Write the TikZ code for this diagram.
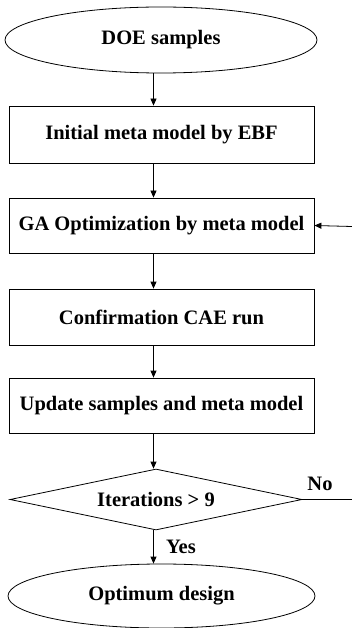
\documentclass[tikz,border=0pt]{standalone}
\usepackage{fontspec}
\setmainfont{Liberation Serif}
\usetikzlibrary{shapes.geometric,arrows.meta}
\begin{document}
\begin{tikzpicture}[x=1pt,y=-1pt,
  font=\bfseries\fontsize{20.5}{24}\selectfont,
  every node/.style={inner sep=0pt},
  terminal/.style={draw,ellipse,line width=0.8pt},
  process/.style={draw,rectangle,line width=0.8pt,minimum width=305pt},
  decision/.style={draw,diamond,aspect=4.8,line width=0.8pt},
  arr/.style={line width=0.8pt,-{Triangle[length=7pt,width=6pt]}},
  link/.style={line width=0.8pt}]
\useasboundingbox (0,0) rectangle (351,628);
\node[terminal,minimum width=312pt,minimum height=66pt] (doe) at (161,40) {DOE samples};
\node[process,minimum height=57pt] (init) at (161.5,134.5) {Initial meta model by EBF};
\node[process,minimum height=55pt] (ga) at (161.5,225.5) {GA Optimization by meta model};
\node[process,minimum height=56pt] (cae) at (161.5,317) {Confirmation CAE run};
\node[process,minimum height=55pt] (upd) at (161.5,405.5) {Update samples and meta model};
\node[decision,minimum width=292pt,minimum height=61pt] (iter) at (156,499.5) {Iterations > 9};
\node[terminal,minimum width=307pt,minimum height=64pt] (opt) at (161.5,596) {Optimum design};
\coordinate (axis) at (153.5,0);
\coordinate (loopin) at (352,226.5);
\coordinate (loopout) at (352,499.5);
\draw[arr] (doe.south -| axis) -- (init.north -| axis);
\draw[arr] (init.south -| axis) -- (ga.north -| axis);
\draw[arr] (ga.south -| axis) -- (cae.north -| axis);
\draw[arr] (cae.south -| axis) -- (upd.north -| axis);
\draw[arr] (upd.south -| axis) -- (iter.north -| axis);
\draw[arr] (iter.south -| axis) -- (opt.north -| axis);
\draw[link] (iter.east) -- (loopout);
\draw[arr] (loopin) -- (ga.east);
\node (no) at (320,484) {No};
\node (yes) at (181,547) {Yes};
\end{tikzpicture}
\end{document}
